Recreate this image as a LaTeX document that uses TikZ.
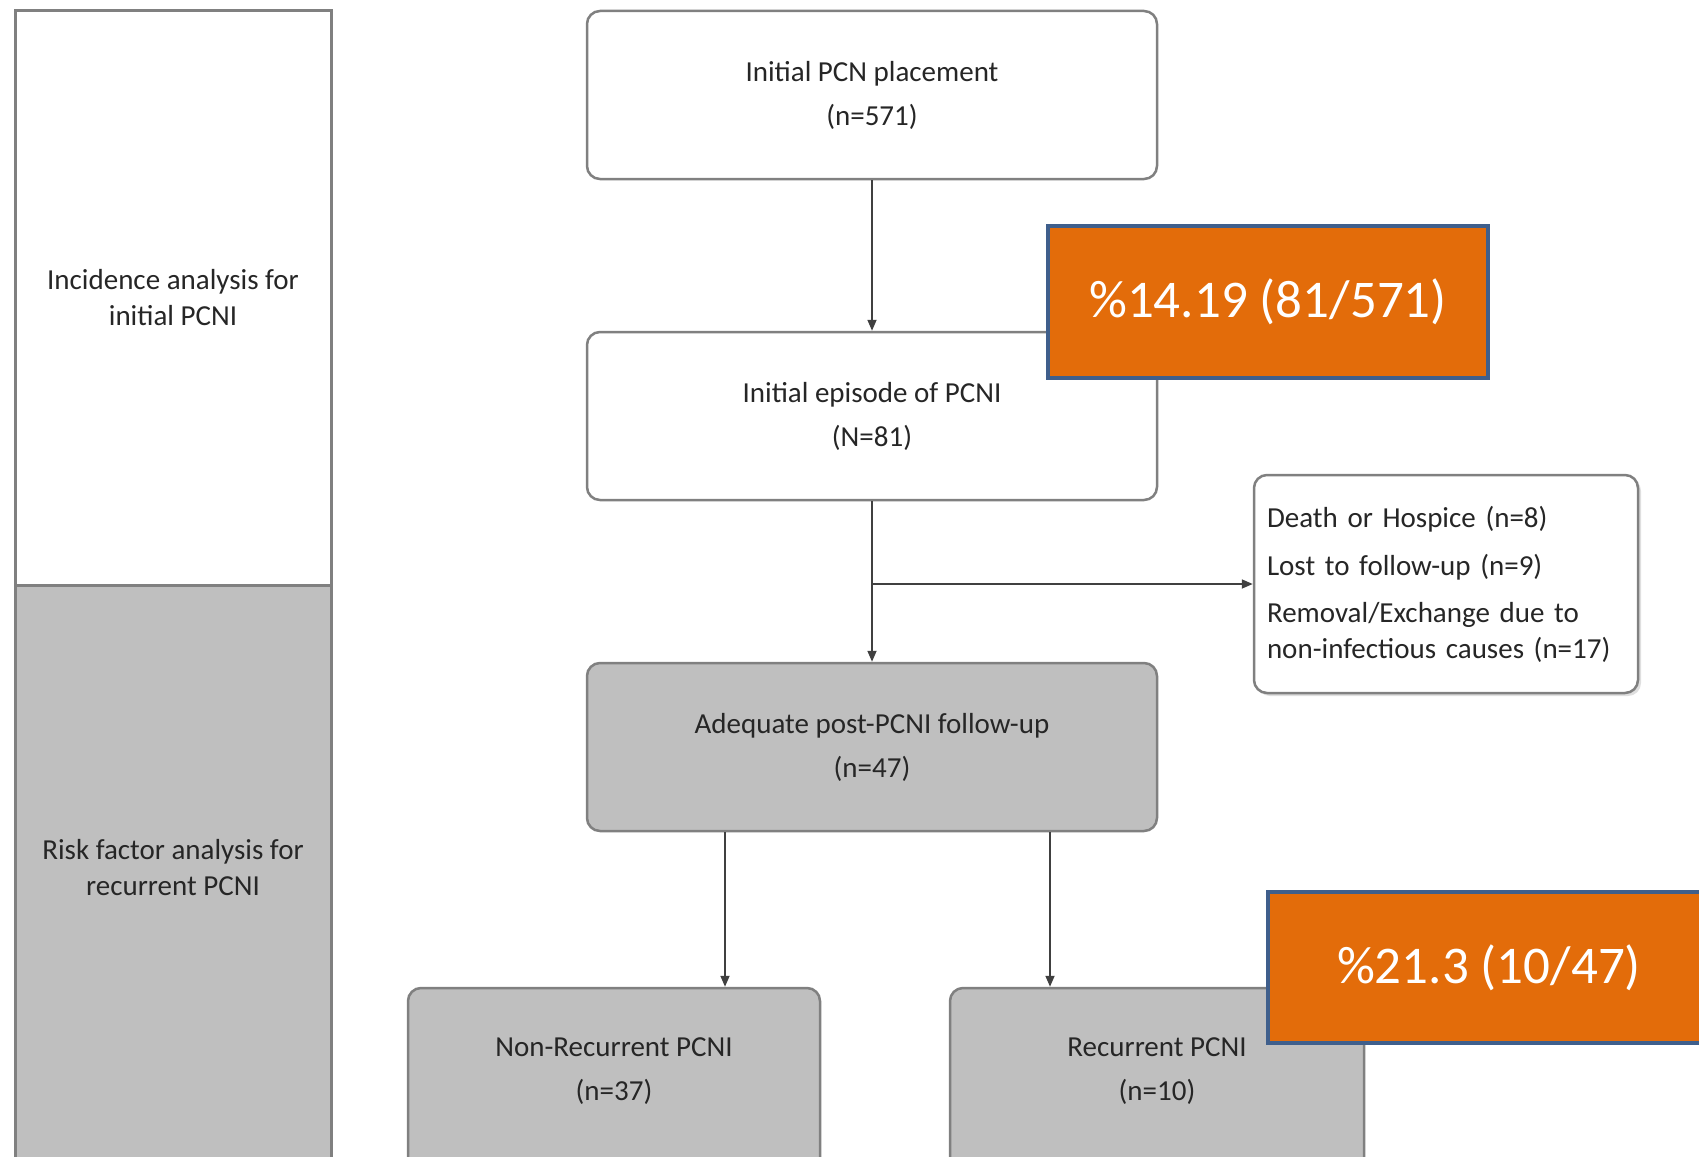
\documentclass[tikz,border=0pt]{standalone}
\usepackage{fontspec}
\setmainfont{Carlito}
\usetikzlibrary{arrows.meta,shadows}
\definecolor{boxgray}{HTML}{BFBFBF}
\definecolor{edgegray}{HTML}{808080}
\definecolor{orangefill}{HTML}{E36C0A}
\definecolor{blueedge}{HTML}{3F5F8C}
\definecolor{linegray}{HTML}{404040}
\definecolor{txt}{HTML}{262626}
\begin{document}
\begin{tikzpicture}[x=1pt,y=-1pt,
  every node/.style={font=\fontsize{29}{36}\selectfont, text=txt, inner sep=0pt, align=center},
  panel/.style={draw=edgegray, line width=3pt, fill=white},
  box/.style={draw=edgegray, line width=2.5pt, rounded corners=13pt, fill=white},
  graybox/.style={box, fill=boxgray},
  pct/.style={draw=blueedge, line width=4.5pt, fill=orangefill, text=white, font=\fontsize{53}{60}\selectfont},
  conn/.style={draw=linegray, line width=1.7pt, -{Triangle[length=11pt,width=9pt]}},
]
\useasboundingbox (0,0) rectangle (1699,1156);
\fill[white] (0,0) rectangle (1699,1156);
\begin{scope}
\clip (0,0) rectangle (1699,1156);
% left panels
\node[panel, minimum width=316pt, minimum height=574pt] (inc) at (173,298) {Incidence analysis for\\initial PCNI};
\node[panel, fill=boxgray, minimum width=316pt, minimum height=577pt] (risk) at (173,873.5) {};
\node (riskt) at (173,868) {Risk factor analysis for\\recurrent PCNI};
% flow boxes
\node[box, minimum width=570pt, minimum height=168pt] (b1) at (872,95) {Initial PCN placement\\[8pt](n=571)};
\node[box, minimum width=570pt, minimum height=168pt] (b2) at (872,416) {Initial episode of PCNI\\[8pt](N=81)};
\node[graybox, minimum width=570pt, minimum height=168pt] (b3) at (872,747) {Adequate post-PCNI follow-up\\[8pt](n=47)};
\node[box, minimum width=384pt, minimum height=218pt, text width=358pt, align=left,
      drop shadow={shadow xshift=3pt, shadow yshift=-3pt, opacity=0.25}] (side) at (1446,584)
  {Death or Hospice (n=8)\\[12pt]Lost to follow-up (n=9)\\[11pt]Removal/Exchange due to\\non-infectious causes (n=17)};
\node[graybox, minimum width=412pt, minimum height=212pt] (nr) at (614,1094) {};
\node[graybox, minimum width=414pt, minimum height=212pt] (rc) at (1157,1094) {};
\node (nrt) at (614,1071) {Non-Recurrent PCNI\\[8pt](n=37)};
\node (rct) at (1157,1071) {Recurrent PCNI\\[8pt](n=10)};
% connectors
\coordinate (j) at (872,584);
\coordinate (xa) at (725,0);
\coordinate (xb) at (1050,0);
\draw[conn] (b1.south) -- (b2.north);
\draw[conn] (b2.south) -- (b3.north);
\draw[conn] (j) -- (side.west);
\draw[conn] (b3.south -| xa) -- (nr.north -| xa);
\draw[conn] (b3.south -| xb) -- (rc.north -| xb);
% percentages
\node[pct, minimum width=440pt, minimum height=152pt] (o1) at (1268,302) {\%14.19 (81/571)};
\node[pct, minimum width=452pt, minimum height=151pt] (o2) at (1494,967.5) {\hspace*{-10pt}\%21.3 (10/47)};
\end{scope}
\end{tikzpicture}
\end{document}
